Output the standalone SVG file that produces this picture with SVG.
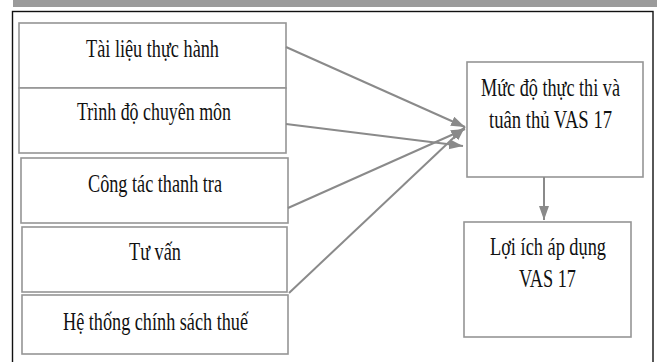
<svg xmlns="http://www.w3.org/2000/svg" width="657" height="362" viewBox="0 0 657 362">
<style>
.box{fill:#fff;stroke:#959595;stroke-width:1.6}
.t{font-family:"Liberation Serif","Times New Roman",serif;font-size:25px;fill:#111;text-anchor:middle}
.c{stroke:#8a8a8a;stroke-width:2;fill:none}
</style>
<defs>
<marker id="ah" markerUnits="userSpaceOnUse" markerWidth="16" markerHeight="12" refX="14" refY="5" orient="auto">
<path d="M0,0 L14,5 L0,10 z" fill="#8a8a8a"/>
</marker>
</defs>
<rect x="13" y="0" width="644" height="7" fill="#9b9b9b"/>
<rect x="12.5" y="11.5" width="640.5" height="360" fill="#fff" stroke="#111" stroke-width="1.4"/>
<g id="n1"><rect class="box" x="19" y="23" width="267" height="65"/><text class="t" transform="translate(152.5,57) scale(0.75,1)" textLength="177.3" lengthAdjust="spacingAndGlyphs">Tài liệu thực hành</text></g>
<g id="n2"><rect class="box" x="19" y="88" width="267" height="65"/><text class="t" transform="translate(154,120) scale(0.75,1)" textLength="205.3" lengthAdjust="spacingAndGlyphs">Trình độ chuyên môn</text></g>
<g id="n3"><rect class="box" x="21" y="158" width="267" height="65"/><text class="t" transform="translate(155,192) scale(0.75,1)" textLength="178.7" lengthAdjust="spacingAndGlyphs">Công tác thanh tra</text></g>
<g id="n4"><rect class="box" x="22" y="227" width="265" height="65"/><text class="t" transform="translate(155,260) scale(0.75,1)" textLength="69.3" lengthAdjust="spacingAndGlyphs">Tư vấn</text></g>
<g id="n5"><rect class="box" x="22" y="295" width="266" height="59"/><text class="t" transform="translate(155.5,330) scale(0.75,1)" textLength="246.7" lengthAdjust="spacingAndGlyphs">Hệ thống chính sách thuế</text></g>
<g id="n6"><rect class="box" x="467" y="62" width="176" height="115"/><text class="t" transform="translate(550.5,96) scale(0.75,1)" textLength="185.3" lengthAdjust="spacingAndGlyphs">Mức độ thực thi và</text><text class="t" transform="translate(550.5,128) scale(0.75,1)" textLength="164" lengthAdjust="spacingAndGlyphs">tuân thủ VAS 17</text></g>
<g id="n7"><rect class="box" x="464" y="222" width="167" height="115"/><text class="t" transform="translate(548,255) scale(0.75,1)" textLength="154.7" lengthAdjust="spacingAndGlyphs">Lợi ích áp dụng</text><text class="t" transform="translate(547.5,287) scale(0.75,1)" textLength="76" lengthAdjust="spacingAndGlyphs">VAS 17</text></g>
<g id="connectors">
<line class="c" x1="286" y1="47" x2="465" y2="127" marker-end="url(#ah)"/>
<line class="c" x1="286" y1="124" x2="463" y2="146" marker-end="url(#ah)"/>
<line class="c" x1="288" y1="208" x2="465" y2="129" marker-end="url(#ah)"/>
<line class="c" x1="289" y1="293" x2="465" y2="127" marker-end="url(#ah)"/>
<line class="c" x1="544" y1="177" x2="544" y2="220" marker-end="url(#ah)"/>
</g>
</svg>
